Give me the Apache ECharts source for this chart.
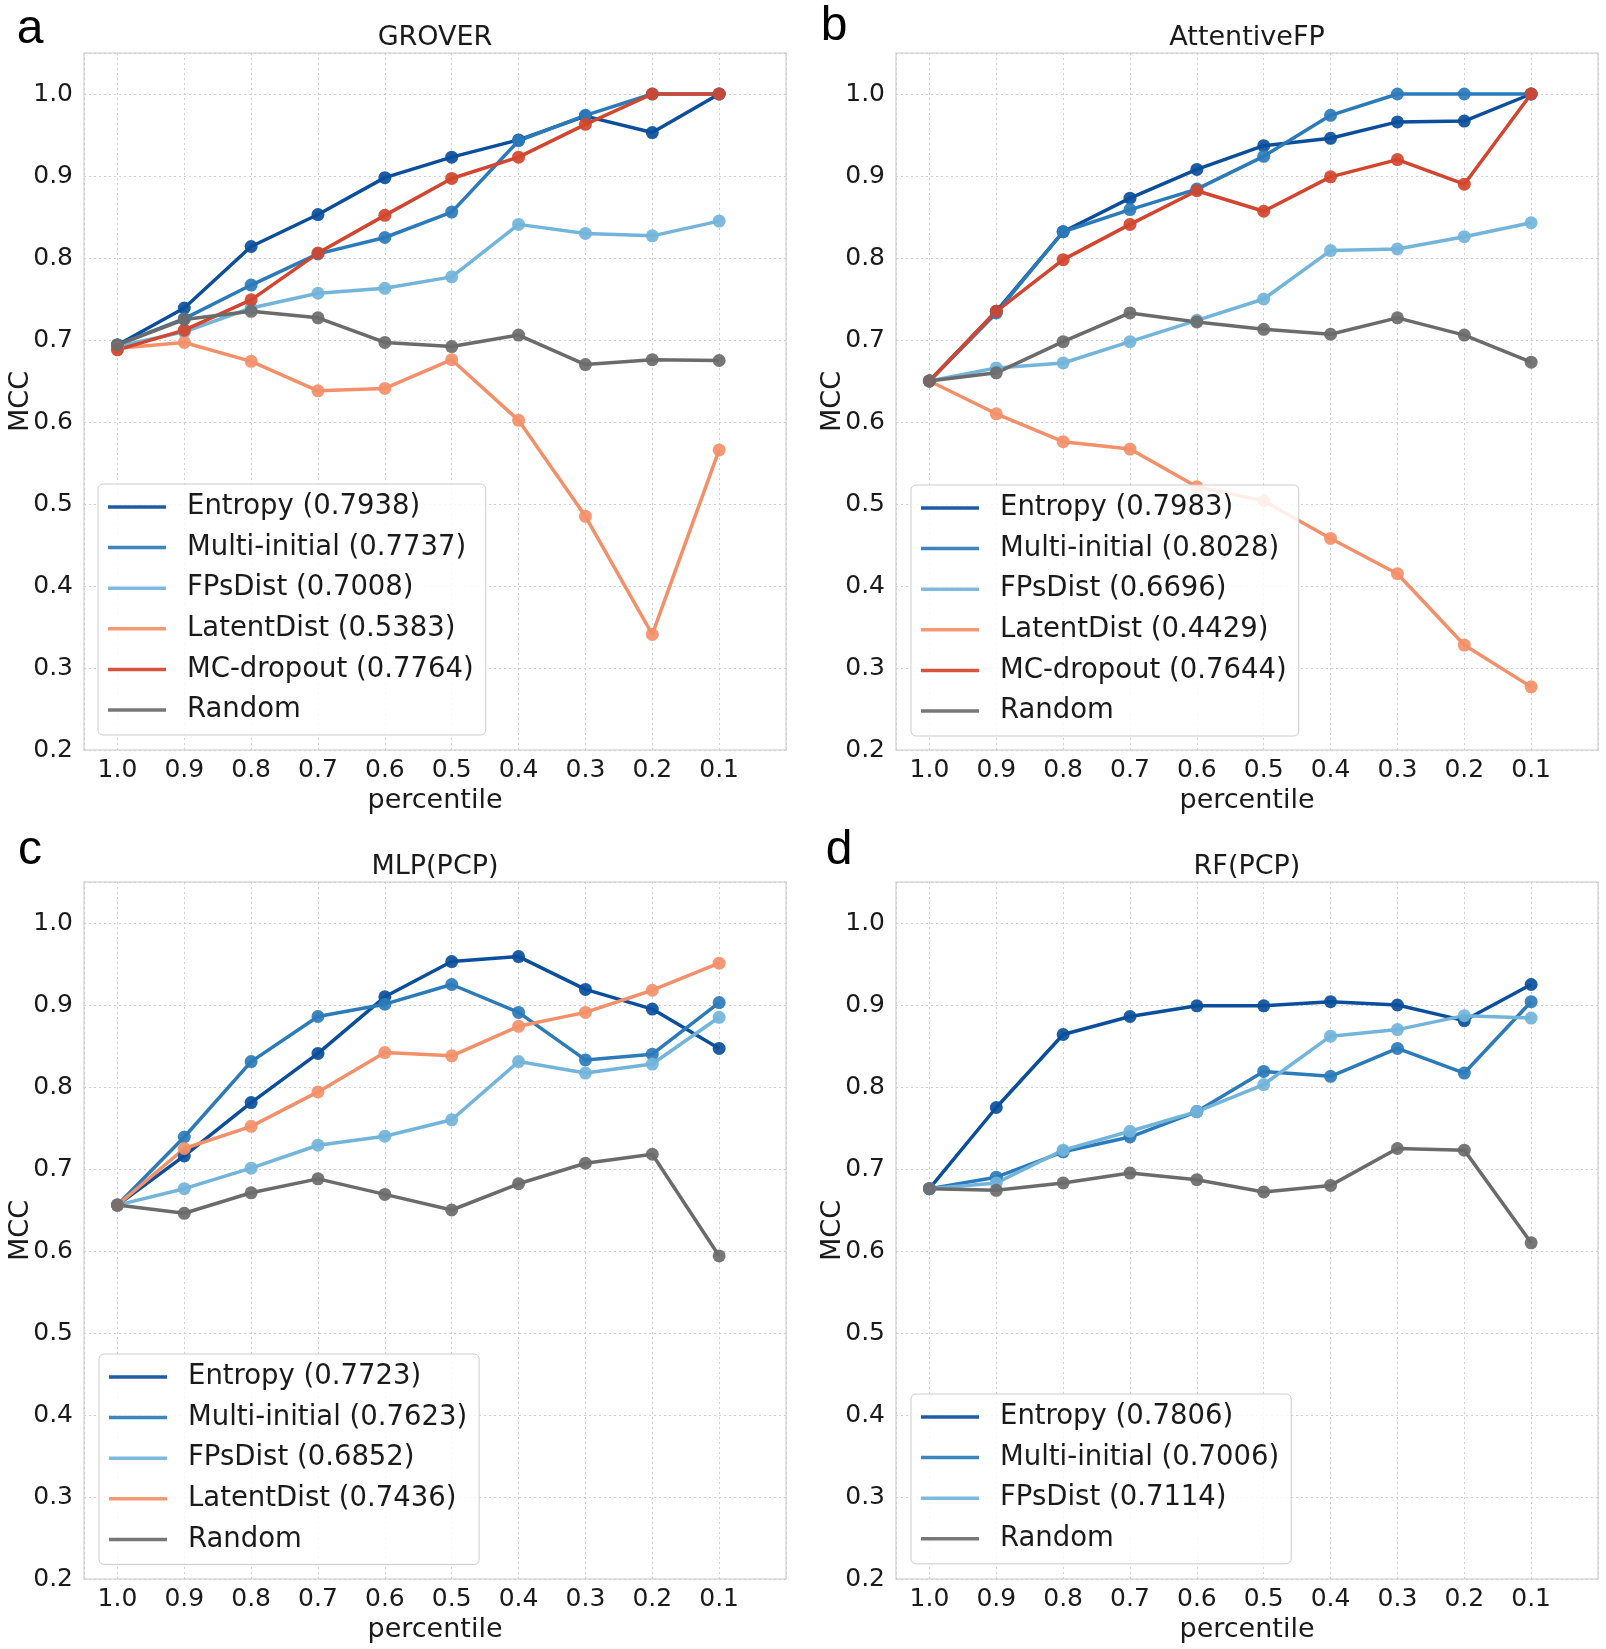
<!DOCTYPE html>
<html>
<head>
<meta charset="utf-8">
<title>MCC vs percentile</title>
<script src="https://cdn.jsdelivr.net/npm/echarts@6/dist/echarts.min.js"></script>
<style>
  html, body { margin: 0; padding: 0; background: #fff; }
  #chart { width: 1606px; height: 1649px; }
</style>
</head>
<body>
<div id="chart"></div>
<script>
// x positions (percentile) and their tick labels
const percentiles = [1.0, 0.9, 0.8, 0.7, 0.6, 0.5, 0.4, 0.3, 0.2, 0.1]
const xTickLabels = ['1.0', '0.9', '0.8', '0.7', '0.6', '0.5', '0.4', '0.3', '0.2', '0.1']
const yTickLabels = ['0.2', '0.3', '0.4', '0.5', '0.6', '0.7', '0.8', '0.9', '1.0']

// a: GROVER
const groverEntropy = [0.694, 0.739, 0.814, 0.853, 0.898, 0.923, 0.944, 0.973, 0.953, 1.0]
const groverMulti = [0.694, 0.726, 0.767, 0.805, 0.825, 0.856, 0.943, 0.974, 1.0, 1.0]
const groverFps = [0.692, 0.710, 0.739, 0.757, 0.763, 0.777, 0.841, 0.830, 0.827, 0.845]
const groverLatent = [0.690, 0.697, 0.674, 0.638, 0.641, 0.676, 0.602, 0.485, 0.341, 0.566]
const groverMc = [0.688, 0.712, 0.749, 0.806, 0.852, 0.897, 0.923, 0.963, 1.0, 1.0]
const groverRandom = [0.694, 0.725, 0.735, 0.727, 0.697, 0.692, 0.706, 0.670, 0.676, 0.675]

// b: AttentiveFP
const afpEntropy = [0.650, 0.735, 0.832, 0.873, 0.908, 0.937, 0.946, 0.966, 0.967, 1.0]
const afpMulti = [0.650, 0.733, 0.832, 0.859, 0.884, 0.924, 0.974, 1.0, 1.0, 1.0]
const afpFps = [0.650, 0.666, 0.672, 0.698, 0.724, 0.750, 0.809, 0.811, 0.826, 0.843]
const afpLatent = [0.650, 0.610, 0.576, 0.567, 0.521, 0.504, 0.458, 0.415, 0.328, 0.277]
const afpMc = [0.650, 0.735, 0.798, 0.841, 0.882, 0.857, 0.899, 0.920, 0.890, 1.0]
const afpRandom = [0.650, 0.660, 0.698, 0.733, 0.722, 0.713, 0.707, 0.727, 0.706, 0.673]

// c: MLP(PCP)
const mlpEntropy = [0.656, 0.716, 0.781, 0.841, 0.910, 0.953, 0.959, 0.919, 0.895, 0.847]
const mlpMulti = [0.656, 0.739, 0.831, 0.886, 0.901, 0.925, 0.891, 0.833, 0.840, 0.903]
const mlpFps = [0.656, 0.676, 0.701, 0.729, 0.740, 0.760, 0.831, 0.817, 0.828, 0.885]
const mlpLatent = [0.656, 0.725, 0.752, 0.794, 0.842, 0.838, 0.874, 0.891, 0.918, 0.951]
const mlpRandom = [0.656, 0.646, 0.671, 0.688, 0.669, 0.650, 0.682, 0.707, 0.718, 0.594]

// d: RF(PCP)
const rfEntropy = [0.676, 0.775, 0.864, 0.886, 0.899, 0.899, 0.904, 0.900, 0.881, 0.925]
const rfMulti = [0.676, 0.690, 0.721, 0.739, 0.770, 0.819, 0.813, 0.847, 0.817, 0.904]
const rfFps = [0.676, 0.683, 0.723, 0.746, 0.770, 0.803, 0.862, 0.870, 0.887, 0.884]
const rfRandom = [0.676, 0.674, 0.683, 0.695, 0.687, 0.672, 0.680, 0.725, 0.723, 0.610]

const COLORS = {
  entropy: '#0b4f9c',
  multi: '#2b7bba',
  fps: '#72b4da',
  latent: '#f3906a',
  mc: '#d2452e',
  random: '#6b6b6b',
}

const FONT = '"DejaVu Sans", sans-serif'
const TEXT = '#1a1a1a'

const panels = [
  {
    letter: 'a', letterX: 30, letterY: 30, title: 'GROVER', left: 84, top: 53, legendLeft: 98, legendTop: 484,
    lines: [
      ['Entropy (0.7938)', groverEntropy, COLORS.entropy],
      ['Multi-initial (0.7737)', groverMulti, COLORS.multi],
      ['FPsDist (0.7008)', groverFps, COLORS.fps],
      ['LatentDist (0.5383)', groverLatent, COLORS.latent],
      ['MC-dropout (0.7764)', groverMc, COLORS.mc],
      ['Random', groverRandom, COLORS.random],
    ],
  },
  {
    letter: 'b', letterX: 834, letterY: 27, title: 'AttentiveFP', left: 896, top: 53, legendLeft: 911, legendTop: 485,
    lines: [
      ['Entropy (0.7983)', afpEntropy, COLORS.entropy],
      ['Multi-initial (0.8028)', afpMulti, COLORS.multi],
      ['FPsDist (0.6696)', afpFps, COLORS.fps],
      ['LatentDist (0.4429)', afpLatent, COLORS.latent],
      ['MC-dropout (0.7644)', afpMc, COLORS.mc],
      ['Random', afpRandom, COLORS.random],
    ],
  },
  {
    letter: 'c', letterX: 30, letterY: 851, title: 'MLP(PCP)', left: 84, top: 882, legendLeft: 99, legendTop: 1354,
    lines: [
      ['Entropy (0.7723)', mlpEntropy, COLORS.entropy],
      ['Multi-initial (0.7623)', mlpMulti, COLORS.multi],
      ['FPsDist (0.6852)', mlpFps, COLORS.fps],
      ['LatentDist (0.7436)', mlpLatent, COLORS.latent],
      ['Random', mlpRandom, COLORS.random],
    ],
  },
  {
    letter: 'd', letterX: 839, letterY: 851, title: 'RF(PCP)', left: 896, top: 882, legendLeft: 911, legendTop: 1394,
    lines: [
      ['Entropy (0.7806)', rfEntropy, COLORS.entropy],
      ['Multi-initial (0.7006)', rfMulti, COLORS.multi],
      ['FPsDist (0.7114)', rfFps, COLORS.fps],
      ['Random', rfRandom, COLORS.random],
    ],
  },
]

const GRID_W = 702
const GRID_H = 697

function xLabel(value) {
  const idx = percentiles.findIndex(p => Math.abs(p - value) < 1e-6)
  return idx >= 0 ? xTickLabels[idx] : ''
}

function yLabel(value) {
  const idx = Math.round((value - 0.2) * 10)
  return Math.abs(value - (0.2 + idx * 0.1)) < 1e-6 && yTickLabels[idx] ? yTickLabels[idx] : ''
}

const grid = []
const xAxis = []
const yAxis = []
const series = []
const legend = []
const graphic = []

panels.forEach((panel, gi) => {
  grid.push({
    left: panel.left,
    top: panel.top,
    width: GRID_W,
    height: GRID_H,
    show: true,
    borderColor: '#dadada',
    borderWidth: 1.5,
    backgroundColor: 'transparent',
  })

  xAxis.push({
    type: 'value',
    gridIndex: gi,
    inverse: true,
    min: 0,
    max: 1.05,
    interval: 0.1,
    name: 'percentile',
    nameLocation: 'middle',
    nameGap: 37,
    nameTextStyle: { fontFamily: FONT, fontSize: 27, color: TEXT },
    axisLine: { show: false },
    axisTick: { show: false },
    axisLabel: {
      fontFamily: FONT,
      fontSize: 25,
      color: TEXT,
      margin: 8,
      showMinLabel: false,
      showMaxLabel: false,
      formatter: xLabel,
    },
    splitLine: { show: true, lineStyle: { color: '#cfcfcf', type: [2, 3], width: 1 } },
  })

  yAxis.push({
    type: 'value',
    gridIndex: gi,
    min: 0.2,
    max: 1.05,
    interval: 0.1,
    name: 'MCC',
    nameLocation: 'middle',
    nameGap: 50,
    nameMoveOverlap: false,
    nameRotate: 90,
    nameTextStyle: { fontFamily: FONT, fontSize: 27, color: TEXT },
    axisLine: { show: false },
    axisTick: { show: false },
    axisLabel: {
      fontFamily: FONT,
      fontSize: 25,
      color: TEXT,
      margin: 11,
      showMaxLabel: false,
      formatter: yLabel,
    },
    splitLine: { show: true, lineStyle: { color: '#cfcfcf', type: [2, 3], width: 1 } },
  })

  panel.lines.forEach(([name, values, color]) => {
    series.push({
      type: 'line',
      name,
      xAxisIndex: gi,
      yAxisIndex: gi,
      data: values.map((v, i) => [percentiles[i], v]),
      symbol: 'circle',
      symbolSize: 13,
      showAllSymbol: true,
      lineStyle: { color, width: 3.5 },
      itemStyle: { color, opacity: 0.92 },
      emphasis: { disabled: true },
    })
  })

  legend.push({
    orient: 'vertical',
    left: panel.legendLeft,
    top: panel.legendTop,
    data: panel.lines.map(l => l[0]),
    icon: 'rect',
    itemWidth: 58,
    itemHeight: 3.5,
    itemGap: 10.6,
    padding: [8, 12, 10, 10],
    backgroundColor: 'rgba(255,255,255,0.85)',
    borderColor: '#cccccc',
    borderWidth: 1,
    borderRadius: 5,
    selectedMode: false,
    textStyle: {
      fontFamily: FONT,
      fontSize: 27.5,
      lineHeight: 30,
      color: TEXT,
      padding: [0, 0, 0, 16],
    },
  })

  graphic.push({
    type: 'text',
    x: panel.left + GRID_W / 2,
    y: panel.top - 15,
    style: {
      text: panel.title,
      font: `27px ${FONT}`,
      fill: TEXT,
      textAlign: 'center',
      textVerticalAlign: 'middle',
      align: 'center',
      verticalAlign: 'middle',
    },
  })
  graphic.push({
    type: 'text',
    x: panel.letterX,
    y: panel.letterY,
    style: {
      text: panel.letter,
      font: `48px "Liberation Sans", Arial, sans-serif`,
      fill: '#000',
      textAlign: 'center',
      textVerticalAlign: 'middle',
      align: 'center',
      verticalAlign: 'middle',
    },
  })
})

const chart = echarts.init(document.getElementById('chart'), null, { renderer: 'canvas' })
chart.setOption({
  animation: false,
  backgroundColor: '#ffffff',
  grid,
  xAxis,
  yAxis,
  series,
  legend,
  graphic,
})
</script>
</body>
</html>
